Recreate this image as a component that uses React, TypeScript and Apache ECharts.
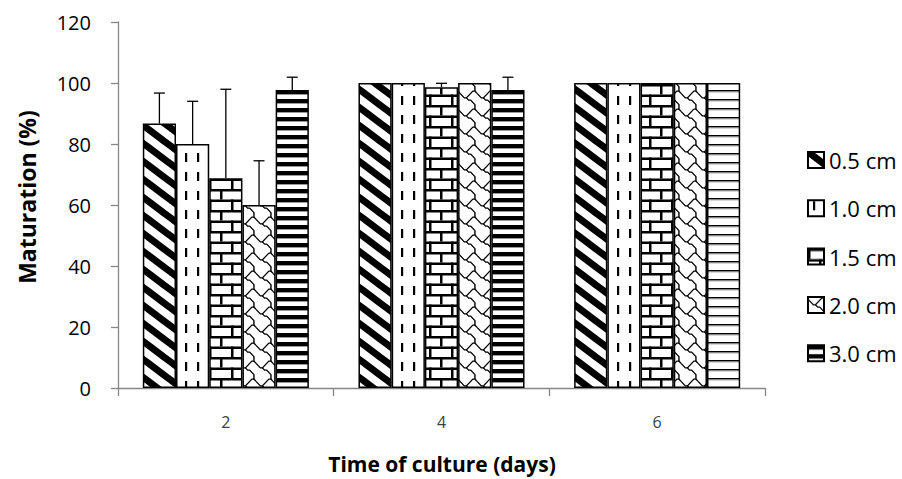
import React, { useEffect, useRef } from "react";
import * as echarts from "echarts";

const categories = ["2", "4", "6"];
const seriesNames = ["0.5 cm", "1.0 cm", "1.5 cm", "2.0 cm", "3.0 cm"];
const values05 = [86.7, 100, 100];
const values10 = [80, 100, 100];
const values15 = [68.75, 98.6, 100];
const values20 = [60, 100, 100];
const values30 = [97.7, 97.7, 100];
const err05 = [10, 0, 0];
const err10 = [14, 0, 0];
const err15 = [29.2, 1.3, 0];
const err20 = [14.5, 0, 0];
const err30 = [4.2, 4.2, 0];
const yMin = 0;
const yMax = 120;
const yInterval = 20;
const yTitle = "Maturation (%)";
const xTitle = "Time of culture (days)";

const allValues = [values05, values10, values15, values20, values30];
const allErrors = [err05, err10, err15, err20, err30];

const FONT = "'Open Sans', 'Noto Sans', sans-serif";
const CAT_GAP = 0.23;

function makeCanvas(w: number, h: number, draw: (ctx: CanvasRenderingContext2D) => void) {
  const c = document.createElement("canvas");
  c.width = w;
  c.height = h;
  const ctx = c.getContext("2d") as CanvasRenderingContext2D;
  ctx.fillStyle = "#fff";
  ctx.fillRect(0, 0, w, h);
  draw(ctx);
  return c;
}

function buildPatterns() {
  const diag = makeCanvas(24, 18, (ctx) => {
    ctx.strokeStyle = "#000";
    ctx.lineWidth = 7;
    for (let k = -3; k <= 3; k++) {
      ctx.beginPath();
      ctx.moveTo(-24, -18 + k * 18);
      ctx.lineTo(48, 36 + k * 18);
      ctx.stroke();
    }
  });
  const dashed = makeCanvas(12, 19, (ctx) => {
    ctx.fillStyle = "#000";
    ctx.fillRect(5, 1, 2.2, 9);
  });
  const brick = makeCanvas(22, 21, (ctx) => {
    ctx.fillStyle = "#000";
    ctx.fillRect(0, 0, 22, 2.5);
    ctx.fillRect(0, 10.5, 22, 2.5);
    ctx.fillRect(0, 0, 2.5, 10.5);
    ctx.fillRect(11, 10.5, 2.5, 10.5);
  });
  const shingle = makeCanvas(17, 18, (ctx) => {
    const sx = 17 / 8;
    const sy = 18 / 8;
    const A = [[0.5, 1.5], [1.5, 2.5], [2.5, 3.5], [3.5, 3.5], [4.5, 2.5], [5.5, 1.5], [6.5, 0.5], [7.5, 0.5], [8.5, 1.5]];
    const B = [[3.5, 3.5], [4.5, 4.5], [5.5, 4.5], [6.5, 5.5], [7.5, 6.5], [7.5, 7.5], [7.5, 8.5]];
    ctx.strokeStyle = "#000";
    ctx.lineWidth = 1.4;
    ctx.lineJoin = "round";
    for (const dx of [-8, 0, 8]) {
      for (const dy of [-8, 0, 8]) {
        for (const pts of [A, B]) {
          ctx.beginPath();
          pts.forEach((p, i) => {
            const x = (p[0] + dx) * sx;
            const y = (p[1] + dy) * sy;
            if (i === 0) ctx.moveTo(x, y);
            else ctx.lineTo(x, y);
          });
          ctx.stroke();
        }
      }
    }
  });
  const horiz = makeCanvas(4, 9, (ctx) => {
    ctx.fillStyle = "#000";
    ctx.fillRect(0, 0, 4, 4.4);
  });
  const horizLight = makeCanvas(4, 9, (ctx) => {
    ctx.fillStyle = "#000";
    ctx.fillRect(0, 0, 4, 1.6);
    ctx.fillStyle = "#bbb";
    ctx.fillRect(0, 1.6, 4, 1);
  });
  return { diag, dashed, brick, shingle, horiz, horizLight };
}

export default function App() {
  const ref = useRef<HTMLDivElement>(null);
  useEffect(() => {
    if (!ref.current) return;
    const chart = echarts.init(ref.current, undefined, { renderer: "svg" });
    const p = buildPatterns();
    const pats = [p.diag, p.dashed, p.brick, p.shingle, p.horiz];

    const barSeries = seriesNames.map((name, s) => ({
      name,
      type: "bar",
      barGap: "0%",
      barCategoryGap: CAT_GAP * 100 + "%",
      itemStyle: {
        color: { image: pats[s], repeat: "repeat" },
        borderColor: "#000",
        borderWidth: 1.5,
      },
      data: allValues[s].map((v, c) =>
        s === 4 && c === 2
          ? { value: v, itemStyle: { color: { image: p.horizLight, repeat: "repeat" } } }
          : v
      ),
    }));

    const errData: number[][] = [];
    allValues.forEach((vals, s) => {
      vals.forEach((v, c) => {
        errData.push([c, v, allErrors[s][c], s]);
      });
    });

    const errSeries = {
      name: "err",
      type: "custom",
      z: 10,
      encode: { x: 0, y: 1 },
      data: errData,
      renderItem: (params: any, api: any) => {
        const c = api.value(0);
        const v = api.value(1);
        const e = api.value(2);
        const s = api.value(3);
        if (!(e > 0)) return { type: "group", children: [] };
        const base = api.coord([c, v]);
        const top = api.coord([c, v + e]);
        const band = api.size([1, 0])[0];
        const bw = (band * (1 - CAT_GAP)) / seriesNames.length;
        const x = base[0] + (s - (seriesNames.length - 1) / 2) * bw;
        const st = { stroke: "#000", lineWidth: 1.3 };
        return {
          type: "group",
          children: [
            { type: "line", shape: { x1: x, y1: base[1], x2: x, y2: top[1] }, style: st },
            { type: "line", shape: { x1: x - 5.5, y1: top[1], x2: x + 5.5, y2: top[1] }, style: st },
          ],
        };
      },
    };

    chart.setOption({
      animation: false,
      textStyle: { fontFamily: FONT },
      grid: { left: 118, right: 137, top: 22, bottom: 91, containLabel: false },
      legend: {
        data: seriesNames,
        orient: "vertical",
        left: 802,
        top: 144,
        itemWidth: 16,
        itemHeight: 16,
        itemGap: 26.3,
        icon: "rect",
        selectedMode: false,
        textStyle: { fontSize: 22, color: "#000", fontFamily: FONT, lineHeight: 16 },
      },
      xAxis: {
        type: "category",
        data: categories,
        axisLine: { show: true, lineStyle: { color: "#868686", width: 1.3 } },
        axisTick: { show: true, length: 8, lineStyle: { color: "#868686", width: 1.3 } },
        axisLabel: { margin: 26, fontSize: 16, color: "#404040", fontFamily: FONT },
        splitLine: { show: false },
      },
      yAxis: {
        type: "value",
        min: yMin,
        max: yMax,
        interval: yInterval,
        axisLine: { show: true, lineStyle: { color: "#868686", width: 1.3 } },
        axisTick: { show: true, length: 7, lineStyle: { color: "#868686", width: 1.3 } },
        axisLabel: { margin: 27, fontSize: 20, color: "#000", fontFamily: FONT },
        splitLine: { show: false },
      },
      graphic: [
        {
          type: "text",
          x: 27,
          y: 197,
          rotation: Math.PI / 2,
          style: {
            text: yTitle,
            fontSize: 23,
            fontWeight: "bold",
            fontFamily: FONT,
            fill: "#000",
            align: "center",
            verticalAlign: "middle",
          },
        },
        {
          type: "text",
          x: 442,
          y: 464,
          style: {
            text: xTitle,
            fontSize: 21,
            lineHeight: 22,
            fontWeight: "bold",
            fontFamily: FONT,
            fill: "#000",
            align: "center",
            verticalAlign: "middle",
          },
        },
      ],
      series: [...barSeries, errSeries],
    });
    return () => chart.dispose();
  }, []);
  return (
    <div
      ref={ref}
      style={{ position: "fixed", left: 0, top: 0, width: 902, height: 479, background: "#fff" }}
    />
  );
}
